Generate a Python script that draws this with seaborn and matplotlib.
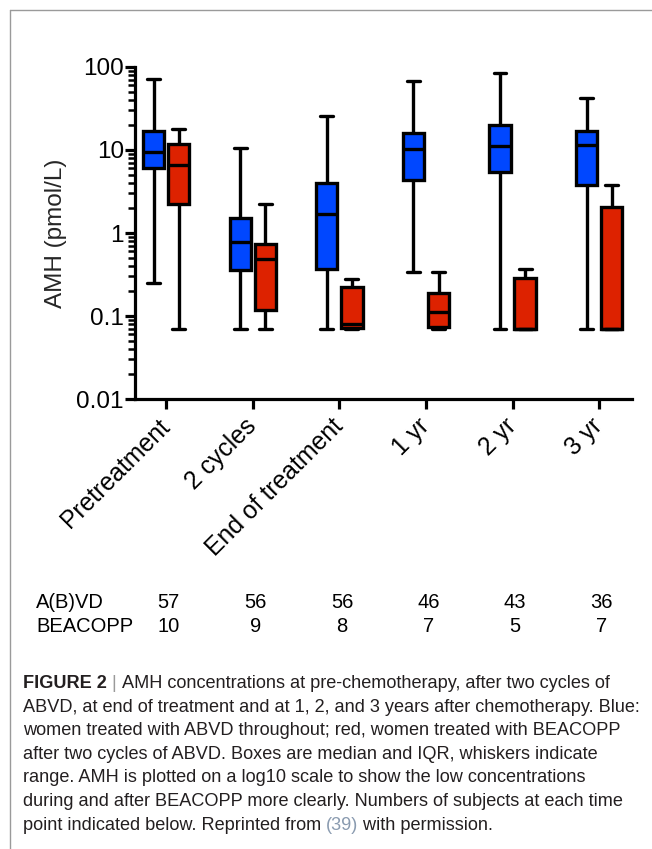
import numpy as np
import pandas as pd
import matplotlib
matplotlib.use("Agg")
import matplotlib.pyplot as plt
import matplotlib.ticker as mticker
from matplotlib.lines import Line2D
from matplotlib.transforms import blended_transform_factory
import seaborn as sns

# ---- data (five-number summaries, pmol/L) ----
timepoints = ["Pretreatment", "2 cycles", "End of treatment", "1 yr", "2 yr", "3 yr"]
groups = ["A(B)VD", "BEACOPP"]

abvd_min = [0.25, 0.07, 0.07, 0.34, 0.07, 0.07]
abvd_q1 = [6.1, 0.36, 0.37, 4.35, 5.5, 3.8]
abvd_med = [9.5, 0.77, 1.68, 10.3, 11.2, 11.5]
abvd_q3 = [17.1, 1.53, 4.0, 16.1, 19.8, 17.1]
abvd_max = [72, 10.7, 26, 67, 85, 42]

beacopp_min = [0.07, 0.07, 0.07, 0.07, 0.07, 0.07]
beacopp_q1 = [2.23, 0.118, 0.071, 0.073, 0.07, 0.07]
beacopp_med = [6.65, 0.48, 0.080, 0.113, 0.07, 0.07]
beacopp_q3 = [11.8, 0.74, 0.223, 0.187, 0.285, 2.04]
beacopp_max = [17.7, 2.23, 0.279, 0.336, 0.368, 3.82]

abvd_n = [57, 56, 56, 46, 43, 36]
beacopp_n = [10, 9, 8, 7, 5, 7]

box_colors = {"A(B)VD": "#0047ff", "BEACOPP": "#dd2200"}

caption_lines = [
    "ABVD, at end of treatment and at 1, 2, and 3 years after chemotherapy. Blue:",
    "women treated with ABVD throughout; red, women treated with BEACOPP",
    "after two cycles of ABVD. Boxes are median and IQR, whiskers indicate",
    "range. AMH is plotted on a log10 scale to show the low concentrations",
    "during and after BEACOPP more clearly. Numbers of subjects at each time",
]

# long table: 5 values per box so quartiles/range come out exactly
summaries = {
    "A(B)VD": (abvd_min, abvd_q1, abvd_med, abvd_q3, abvd_max),
    "BEACOPP": (beacopp_min, beacopp_q1, beacopp_med, beacopp_q3, beacopp_max),
}
records = []
for grp, cols in summaries.items():
    for i, tp in enumerate(timepoints):
        for c in cols:
            records.append({"timepoint": tp, "group": grp, "amh": c[i]})
df = pd.DataFrame(records)

sns.set_theme(style="ticks")
plt.rcParams.update({
    "font.family": ["Liberation Sans", "DejaVu Sans"],
    "axes.linewidth": 2.3,
    "axes.edgecolor": "black",
    "text.color": "black",
    "xtick.color": "black",
    "ytick.color": "black",
})

fig = plt.figure(figsize=(6.52, 8.49), dpi=100)
ax = fig.add_axes([0.2071, 0.530, 0.7623, 0.3911])

sns.boxplot(
    data=df, x="timepoint", y="amh", hue="group",
    order=timepoints, hue_order=groups, palette=box_colors,
    saturation=1, width=0.58, gap=0.15, whis=(0, 100),
    linecolor="black", linewidth=2.4, log_scale=True,
    legend=False, ax=ax, capwidths=0.15,
)

ax.set_ylim(0.01, 100)
ax.set_xlim(-0.36, 5.38)
ax.set_yticks([0.01, 0.1, 1, 10, 100])
ax.set_yticklabels(["0.01", "0.1", "1", "10", "100"])
ax.yaxis.set_minor_locator(mticker.LogLocator(base=10, subs=np.arange(2, 10)))
ax.yaxis.set_minor_formatter(mticker.NullFormatter())
ax.tick_params(axis="y", which="major", length=7.5, width=2.3, labelsize=17.5, pad=0.5)
ax.tick_params(axis="y", which="minor", length=5, width=1.8)
ax.tick_params(axis="x", length=7, width=2.3, labelsize=17.8, pad=10)
ax.set_xticks(range(len(timepoints)))
ax.set_xticklabels(timepoints, rotation=45, ha="right", va="center",
                   rotation_mode="anchor")
ax.set_xlabel("")
ax.set_ylabel("AMH (pmol/L)", fontsize=17.5, labelpad=7)
sns.despine(ax=ax)

# numbers of subjects under the plot
trans = blended_transform_factory(ax.transData, fig.transFigure)
for yy, name, counts in ((1 - 602 / 849, groups[0], abvd_n), (1 - 627 / 849, groups[1], beacopp_n)):
    fig.text(36 / 652, yy, name, fontsize=14.5, va="center", ha="left")
    for i, n in enumerate(counts):
        ax.text(i + 0.03, yy, str(n), transform=trans, fontsize=14.5,
                va="center", ha="center", clip_on=False)

# caption
cap_kw = dict(fontsize=13.1, color="#231f20")
x0 = 23 / 652
t = fig.text(x0, 1 - 683 / 849, "FIGURE 2", fontweight="bold", va="center", **cap_kw)
t = ax.annotate(" | ", xy=(1, 0), xycoords=t, va="bottom", ha="left",
                annotation_clip=False, fontsize=13.1, color="#9a9a9a")
ax.annotate("AMH concentrations at pre-chemotherapy, after two cycles of",
            xy=(1, 0), xycoords=t, va="bottom", ha="left", annotation_clip=False, **cap_kw)
for k, line in enumerate(caption_lines):
    fig.text(x0, 1 - (707 + 23.6 * k) / 849, line, va="center", **cap_kw)
t = fig.text(x0, 1 - 825 / 849, "point indicated below. Reprinted from ", va="center", **cap_kw)
t2 = ax.annotate("(39)", xy=(1, 0), xycoords=t, va="bottom", ha="left",
                 annotation_clip=False, fontsize=13.1, color="#8a9bb0")
ax.annotate(" with permission.", xy=(1, 0), xycoords=t2, va="bottom", ha="left",
            annotation_clip=False, **cap_kw)

# thin grey frame on top and left
fig.add_artist(Line2D([10 / 652, 1], [1 - 10 / 849] * 2, transform=fig.transFigure,
                      color="#9a9a9a", linewidth=1))
fig.add_artist(Line2D([10 / 652] * 2, [0, 1 - 10 / 849], transform=fig.transFigure,
                      color="#9a9a9a", linewidth=1))

fig.savefig("out.png", dpi=100)
